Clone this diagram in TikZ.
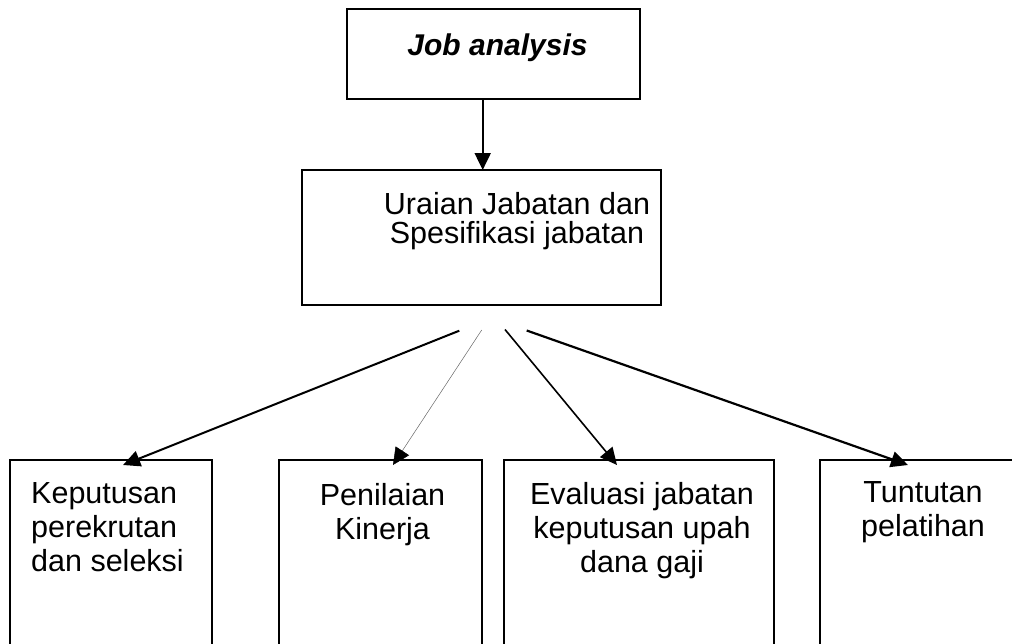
\documentclass[tikz,border=0pt]{standalone}
\usepackage{fontspec}
\setmainfont{Liberation Sans}
\usetikzlibrary{arrows.meta}
\begin{document}
\begin{tikzpicture}[x=1pt,y=-1pt,
  box/.style={draw,line width=2.3pt,outer sep=0pt,inner sep=0pt,anchor=north west},
  conn/.style={-{Triangle[length=17pt,width=16pt,color=black]}, line width=2pt},
  txt/.style={inner sep=0pt, font=\fontsize{30.5}{34}\selectfont}
]
\useasboundingbox (0,0) rectangle (1012,643);
\clip (0,0) rectangle (1012,643);
% boxes
\node[box, minimum width=293pt, minimum height=90pt] (ja) at (347,9) {};
\node[box, minimum width=359pt, minimum height=135pt] (ub) at (302,170) {};
\node[box, minimum width=202pt, minimum height=260pt] (b1) at (10,460) {};
\node[box, minimum width=203pt, minimum height=260pt] (b2) at (279,460) {};
\node[box, minimum width=270pt, minimum height=260pt] (b3) at (504,460) {};
\node[box, minimum width=260pt, minimum height=260pt] (b4) at (820,460) {};
% texts
\node[txt, anchor=north, font=\fontsize{30}{29}\selectfont\bfseries\itshape] (tj) at (497.5,34) {Job analysis};
\node[txt, anchor=north, align=center, font=\fontsize{30.5}{29.5}\selectfont] (tu) at (517,192) {Uraian Jabatan dan\\Spesifikasi jabatan};
\node[txt, anchor=north west, align=left] (t1) at (31,482.5) {Keputusan\\perekrutan\\dan seleksi};
\node[txt, anchor=north, align=center] (t2) at (382.5,483) {Penilaian\\Kinerja};
\node[txt, anchor=north, align=center] (t3) at (642,482.5) {Evaluasi jabatan\\keputusan upah\\dana gaji};
\node[txt, anchor=north, align=center] (t4) at (923,481.5) {Tuntutan\\pelatihan};
% connector end points
\coordinate (s1) at (459.3,330.7);
\coordinate (s2) at (481.7,330);
\coordinate (s3) at (505,329.5);
\coordinate (s4) at (526.7,330.5);
\coordinate (e1) at (123,465);
\coordinate (e2) at (393,465);
\coordinate (e3) at (617,465);
\coordinate (e4) at (908,465);
% connectors
\draw[conn] (ja.south -| 482.7,0) -- (ub.north -| 482.7,0);
\draw[conn] (s1) -- (e1);
\draw[conn, line width=0.5pt, draw=black!60] (s2) -- (e2);
\draw[conn, line width=1.6pt] (s3) -- (e3);
\draw[conn, line width=2.2pt] (s4) -- (e4);
\end{tikzpicture}
\end{document}
